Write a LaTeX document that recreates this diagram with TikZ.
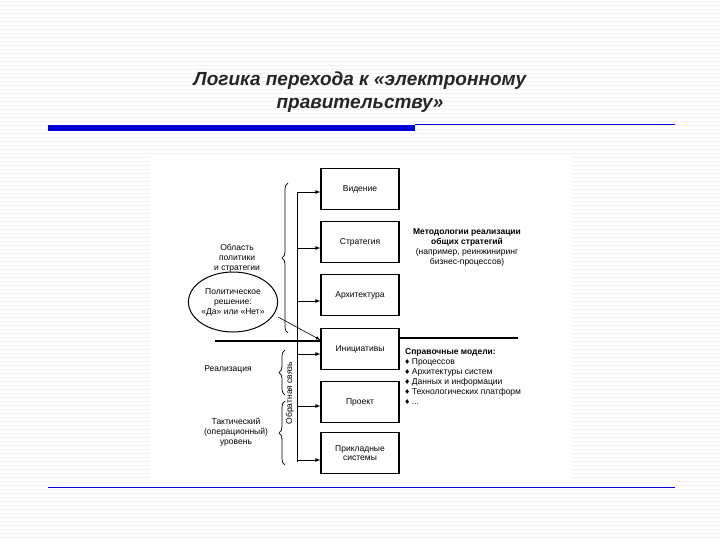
\documentclass[tikz,border=0pt]{standalone}
\usepackage{fontspec}
\setmainfont{Liberation Sans}
\usetikzlibrary{decorations.pathreplacing,shapes.geometric}
\begin{document}
\begin{tikzpicture}[x=1pt,y=-1pt,
  bx/.style={draw,line width=1.1pt,minimum width=78pt,minimum height=41pt,inner sep=1pt,font=\fontsize{8.5}{9.5}\selectfont,align=center},
  lbl/.style={font=\fontsize{8.5}{10}\selectfont,align=center,inner sep=0pt},
  arr/.style={-latex,line width=0.8pt},
  br/.style={decorate,decoration={brace,amplitude=6pt,mirror},line width=0.7pt}]
\useasboundingbox (0,0) rectangle (720,540);
\fill[white] (0,0) rectangle (720,540);
\foreach \i in {0,4,...,536} \draw[gray!10,line width=0.5pt] (0,\i+1) -- (720,\i+1);
\node[font=\fontsize{19}{23}\selectfont\itshape\bfseries,align=center,text=black!85] (title) at (360,92) {Логика перехода к «электронному\\правительству»};
\fill[blue!85!black] (48,125) rectangle (415,131);
\draw[blue!85!black,line width=0.7pt] (415,124.5) -- (675,124.5);
\draw[blue!85!black,line width=0.7pt] (48,487) -- (675,487);
\fill[white] (150,157) rectangle (572,480);
\node[bx] (v) at (360,189) {Видение};
\node[bx] (s) at (360,242) {Стратегия};
\node[bx] (a) at (360,295) {Архитектура};
\node[bx] (i) at (360,349) {Инициативы};
\node[bx] (p) at (360,402) {Проект};
\node[bx] (ps) at (360,453) {Прикладные\\системы};
\coordinate (vt) at (297,192); \coordinate (vb) at (297,462);
\draw[line width=0.8pt] (vt) -- (vb);
\foreach \n/\y in {v/192,s/248,a/301,i/354,p/406,ps/460} \draw[arr] (297,\y) -- (\n.west |- 0,\y);
\coordinate (hl) at (215,341); \coordinate (hr) at (518,338);
\draw[line width=1.6pt] (hl) -- (i.west |- hl);
\draw[line width=1.6pt] (i.east |- hr) -- (hr);
\node[draw,ellipse,line width=1pt,minimum width=76pt,minimum height=60pt,lbl] (e) at (233,302) {Политическое\\решение:\\«Да» или «Нет»};
\draw[arr,line width=0.6pt] (e.east |- 0,317) -- (i.west |- 0,340);
\draw[br] (288,183) -- (288,333);
\draw[br] (285,350) -- (285,395);
\draw[br] (285,401) -- (285,465);
\node[lbl] (obl) at (237,258) {Область\\политики\\и стратегии};
\node[lbl] (real) at (228,369) {Реализация};
\node[lbl] (tak) at (236,432) {Тактический\\(операционный)\\уровень};
\node[lbl,rotate=90] (fb) at (290,393) {Обратная связь};
\node[lbl] (met) at (467,247) {\textbf{Методологии реализации}\\\textbf{общих стратегий}\\(например, реинжиниринг\\бизнес-процессов)};
\node[lbl,align=left,anchor=north west] (ref) at (405,348) {\textbf{Справочные модели:}\\♦ Процессов\\♦ Архитектуры систем\\♦ Данных и информации\\♦ Технологических платформ\\♦ ...};
\end{tikzpicture}
\end{document}
